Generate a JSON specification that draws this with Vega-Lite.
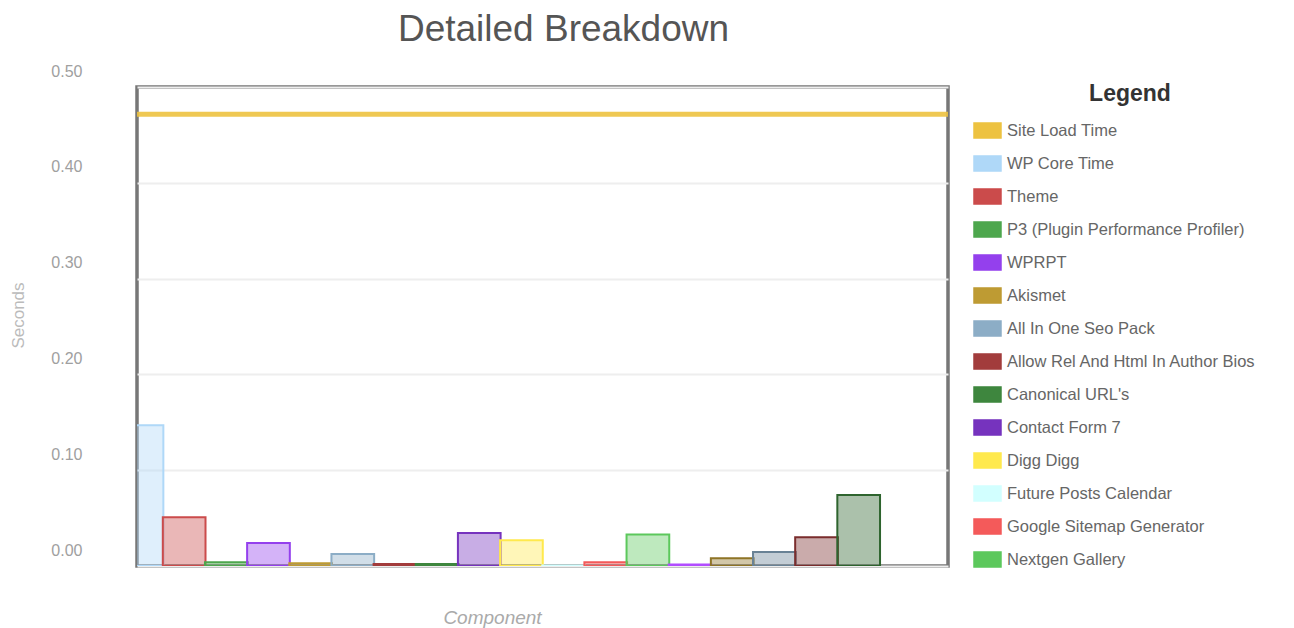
{
  "$schema": "https://vega.github.io/schema/vega-lite/v6.json",
  "autosize": {"type": "none"},
  "padding": {"left": 137, "top": 87, "right": 346, "bottom": 62},
  "width": 811,
  "height": 479,
  "background": "white",
  "title": {
    "text": "Detailed Breakdown",
    "fontSize": 37,
    "font": "Liberation Sans",
    "fontWeight": "normal",
    "color": "#555555",
    "anchor": "middle",
    "dx": 21,
    "offset": 14
  },
  "config": {
    "view": {"stroke": "#777777", "strokeWidth": 3.5},
    "font": "Liberation Sans"
  },
  "datasets": {
    "load": [
      {"component": "Site Load Time", "seconds": 0.4715}
    ],
    "bars": [
      {"pos": 0, "component": "WP Core Time", "seconds": 0.147},
      {"pos": 1, "component": "Theme", "seconds": 0.051},
      {"pos": 2, "component": "P3 (Plugin Performance Profiler)", "seconds": 0.004},
      {"pos": 3, "component": "WPRPT", "seconds": 0.024},
      {"pos": 4, "component": "Akismet", "seconds": 0.003},
      {"pos": 5, "component": "All In One Seo Pack", "seconds": 0.0125},
      {"pos": 6, "component": "Allow Rel And Html In Author Bios", "seconds": 0.002},
      {"pos": 7, "component": "Canonical URL's", "seconds": 0.002},
      {"pos": 8, "component": "Contact Form 7", "seconds": 0.0345},
      {"pos": 9, "component": "Digg Digg", "seconds": 0.027},
      {"pos": 10, "component": "Future Posts Calendar", "seconds": 0.0005},
      {"pos": 11, "component": "Google Sitemap Generator", "seconds": 0.004},
      {"pos": 12, "component": "Nextgen Gallery", "seconds": 0.033},
      {"pos": 13, "component": "Really Simple Captcha", "seconds": 0.0015},
      {"pos": 14, "component": "Subscribe To Comments", "seconds": 0.008},
      {"pos": 15, "component": "W3 Total Cache", "seconds": 0.0146},
      {"pos": 16, "component": "Wordpress Seo", "seconds": 0.030},
      {"pos": 17, "component": "Yet Another Related Posts Plugin", "seconds": 0.074}
    ]
  },
  "encoding": {
    "y": {
      "field": "seconds",
      "type": "quantitative",
      "scale": {"domain": [0, 0.5], "nice": false},
      "axis": {
        "title": "Seconds",
        "values": [0, 0.1, 0.2, 0.3, 0.4, 0.5],
        "format": ".2f",
        "domain": false,
        "ticks": false,
        "grid": true,
        "gridColor": "#eeeeee",
        "gridWidth": 2,
        "labelFontSize": 16,
        "labelColor": "#a0a0a0",
        "labelPadding": 55,
        "labelOffset": -16,
        "titleColor": "#bbbbbb",
        "titleFontSize": 17,
        "titleFontWeight": "normal",
        "titleX": -119,
        "titleY": 228,
        "titleAngle": -90,
        "titleBaseline": "middle"
      }
    }
  },
  "layer": [
    {
      "data": {"name": "bars"},
      "mark": {"type": "bar", "width": 42.7, "fillOpacity": 0.4, "strokeWidth": 2, "clip": true},
      "encoding": {
        "x": {
          "field": "pos",
          "type": "quantitative",
          "scale": {"domain": [0, 19], "nice": false, "zero": false},
          "axis": {
            "title": "Component",
            "labels": false,
            "ticks": false,
            "domain": false,
            "grid": false,
            "titleColor": "#aaaaaa",
            "titleFontSize": 19,
            "titleFontStyle": "italic",
            "titleFontWeight": "normal",
            "titleX": 355,
            "titleY": 51,
            "titleBaseline": "middle"
          }
        },
        "fill": {
          "field": "component",
          "type": "nominal",
          "scale": {
            "domain": ["Site Load Time", "WP Core Time", "Theme", "P3 (Plugin Performance Profiler)", "WPRPT", "Akismet", "All In One Seo Pack", "Allow Rel And Html In Author Bios", "Canonical URL's", "Contact Form 7", "Digg Digg", "Future Posts Calendar", "Google Sitemap Generator", "Nextgen Gallery", "Really Simple Captcha", "Subscribe To Comments", "W3 Total Cache", "Wordpress Seo", "Yet Another Related Posts Plugin"],
            "range": ["#edc240", "#afd8f8", "#cb4b4b", "#4da74d", "#9440ed", "#be9b33", "#8cadc6", "#a23c3c", "#3e863e", "#7633be", "#ffe94d", "#d2ffff", "#f45a5a", "#5cc85c", "#b24dff", "#8e7426", "#698295", "#7a2d2d", "#2e642e"]
          },
          "legend": {
            "title": "Legend",
            "orient": "none",
            "legendX": 836,
            "legendY": -4,
            "padding": 0,
            "values": ["Site Load Time", "WP Core Time", "Theme", "P3 (Plugin Performance Profiler)", "WPRPT", "Akismet", "All In One Seo Pack", "Allow Rel And Html In Author Bios", "Canonical URL's", "Contact Form 7", "Digg Digg", "Future Posts Calendar", "Google Sitemap Generator", "Nextgen Gallery"],
            "titleFontSize": 23,
            "titleFontWeight": "bold",
            "titleColor": "#333333",
            "titleAnchor": "middle",
            "titlePadding": 10,
            "labelFontSize": 16.5,
            "labelColor": "#666666",
            "labelOffset": 5,
            "labelLimit": 320,
            "rowPadding": 7,
            "symbolType": "M-1,-0.56L1,-0.56L1,0.56L-1,0.56Z",
            "symbolSize": 729,
            "symbolOpacity": 1,
            "symbolStrokeColor": "#ececec",
            "symbolStrokeWidth": 1.5,
            "encode": {
              "symbols": {"update": {"fillOpacity": {"value": 1}, "opacity": {"value": 1}, "stroke": {"value": "#ececec"}, "strokeWidth": {"value": 1.5}}},
              "title": {"update": {"dx": {"value": 15}}}
            }
          }
        },
        "stroke": {
          "field": "component",
          "type": "nominal",
          "scale": {
            "domain": ["Site Load Time", "WP Core Time", "Theme", "P3 (Plugin Performance Profiler)", "WPRPT", "Akismet", "All In One Seo Pack", "Allow Rel And Html In Author Bios", "Canonical URL's", "Contact Form 7", "Digg Digg", "Future Posts Calendar", "Google Sitemap Generator", "Nextgen Gallery", "Really Simple Captcha", "Subscribe To Comments", "W3 Total Cache", "Wordpress Seo", "Yet Another Related Posts Plugin"],
            "range": ["#edc240", "#afd8f8", "#cb4b4b", "#4da74d", "#9440ed", "#be9b33", "#8cadc6", "#a23c3c", "#3e863e", "#7633be", "#ffe94d", "#d2ffff", "#f45a5a", "#5cc85c", "#b24dff", "#8e7426", "#698295", "#7a2d2d", "#2e642e"]
          },
          "legend": null
        }
      }
    },
    {
      "data": {"name": "load"},
      "mark": {"type": "rule", "strokeWidth": 5, "opacity": 0.9, "clip": true},
      "encoding": {
        "stroke": {"field": "component", "type": "nominal", "legend": null}
      }
    }
  ]
}
